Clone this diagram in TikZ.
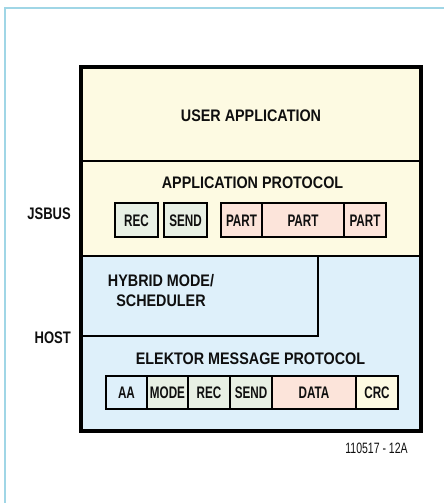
\documentclass[tikz,border=0pt]{standalone}
\usepackage{fontspec}
\setmainfont{Liberation Sans}
\newfontfamily\headfont{Liberation Sans}[FakeStretch=0.86]
\newfontfamily\sidefont{Liberation Sans}[FakeStretch=0.78]
\newfontfamily\boxfont{Liberation Sans}[FakeStretch=0.7]
\newfontfamily\footfont{Liberation Sans}[FakeStretch=0.7]
\definecolor{pageline}{RGB}{160,214,230}
\definecolor{yel}{RGB}{253,250,226}
\definecolor{blu}{RGB}{222,240,250}
\definecolor{grn}{RGB}{232,240,228}
\definecolor{pnk}{RGB}{252,228,218}
\definecolor{ink}{RGB}{15,15,15}
\tikzset{
  head/.style={font=\headfont\fontsize{16.7}{19}\selectfont\bfseries, text=ink, anchor=base, inner sep=0pt},
  side/.style={font=\sidefont\fontsize{16.7}{19}\selectfont\bfseries, text=ink, anchor=base east, inner sep=0pt},
  cell/.style={draw=black, line width=2pt, inner sep=0pt, text=ink,
    font=\boxfont\fontsize{16.7}{19}\selectfont\bfseries, text height=12pt, text depth=0pt},
  foot/.style={font=\footfont\fontsize{15}{17}\selectfont, text=ink, anchor=base, inner sep=0pt},
}
\begin{document}
\begin{tikzpicture}[x=1pt,y=-1pt]
\useasboundingbox (0,0) rectangle (444,503);
% page frame line
\draw[pageline, line width=1.5pt] (444,8) -- (5,8) -- (5,503);
% fills
\fill[yel] (80.5,67) rectangle (420.5,256);
\fill[blu] (80.5,256) rectangle (420.5,431);
% inner lines
\draw[line width=2pt] (80.5,161) -- (420.5,161);
\draw[line width=2.5pt] (80.5,256) -- (420.5,256);
\draw[line width=2.5pt] (318,256) -- (318,336) -- (80.5,336);
% outer frame
\draw[line width=4pt] (80.5,67) rectangle (420.5,431);
% headings
\node[head] (user) at (251,121) {USER APPLICATION};
\node[head] (approt) at (252.5,188.3) {APPLICATION PROTOCOL};
\node[head] (hyb1) at (161,286.7) {HYBRID MODE/};
\node[head] (hyb2) at (161,306.7) {SCHEDULER};
\node[head] (emp) at (250.5,364.3) {ELEKTOR MESSAGE PROTOCOL};
% side labels
\node[side] (jsbus) at (71,219) {JSBUS};
\node[side] (host) at (71,343) {HOST};
% application protocol cells
\node[cell, fill=grn, minimum width=43pt, minimum height=34pt] (arec) at (136.5,220) {REC};
\node[cell, fill=grn, minimum width=43pt, minimum height=34pt] (asend) at (185.5,220) {SEND};
\node[cell, fill=pnk, minimum width=41pt, minimum height=34pt] (ap1) at (241.5,220) {PART};
\node[cell, fill=pnk, minimum width=82pt, minimum height=34pt] (ap2) at (303,220) {PART};
\node[cell, fill=pnk, minimum width=42pt, minimum height=34pt] (ap3) at (365,220) {PART};
% message protocol cells
\node[cell, fill=blu, minimum width=41pt, minimum height=33pt] (maa) at (126.5,392.5) {AA};
\node[cell, fill=grn, minimum width=41pt, minimum height=33pt] (mmode) at (167.5,392.5) {MODE};
\node[cell, fill=grn, minimum width=42pt, minimum height=33pt] (mrec) at (209,392.5) {REC};
\node[cell, fill=grn, minimum width=42pt, minimum height=33pt] (msend) at (251,392.5) {SEND};
\node[cell, fill=pnk, minimum width=84pt, minimum height=33pt] (mdata) at (314,392.5) {DATA};
\node[cell, fill=yel, minimum width=42pt, minimum height=33pt] (mcrc) at (377,392.5) {CRC};
% footer
\node[foot] (code) at (376.5,453.3) {110517 - 12A};
\end{tikzpicture}
\end{document}
